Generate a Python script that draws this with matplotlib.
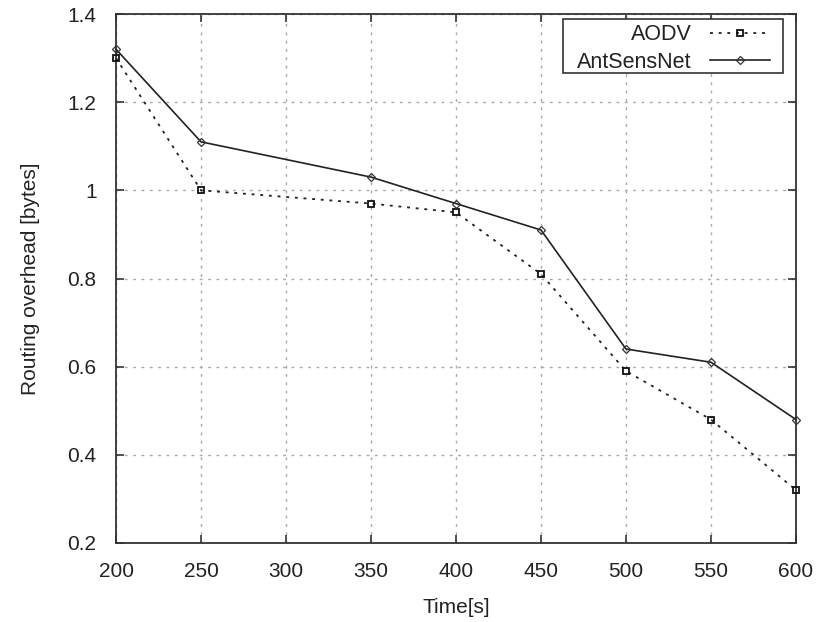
import matplotlib
matplotlib.use("Agg")
import matplotlib.pyplot as plt
from matplotlib.patches import Rectangle

plt.rcParams['font.family'] = ['Liberation Sans', 'DejaVu Sans']

time_s = [200, 250, 350, 400, 450, 500, 550, 600]
aodv = [1.30, 1.00, 0.97, 0.95, 0.81, 0.59, 0.48, 0.32]
antsensnet = [1.32, 1.11, 1.03, 0.97, 0.91, 0.64, 0.61, 0.48]
xticks = [200, 250, 300, 350, 400, 450, 500, 550, 600]
yticks = [0.2, 0.4, 0.6, 0.8, 1.0, 1.2, 1.4]
yticklabels = ['0.2', '0.4', '0.6', '0.8', '1', '1.2', '1.4']

W, H = 816, 622
fig = plt.figure(figsize=(W/100, H/100), dpi=100)
ax = fig.add_axes([116/W, 1-543/H, (796-116)/W, (543-14)/H])

ax.plot(time_s, aodv, color='#222222', linestyle=(0, (1.6, 3.2)), linewidth=1.3,
        marker='s', markersize=4.5, markerfacecolor='none', markeredgewidth=1.3,
        markeredgecolor='#111111',
        label='AODV', clip_on=False, zorder=3)
ax.plot(time_s, antsensnet, color='#222222', linestyle='-', linewidth=1.2,
        marker='D', markersize=4, markerfacecolor='none', markeredgewidth=0.9,
        markeredgecolor='#333333',
        label='AntSensNet', clip_on=False, zorder=3)

ax.set_xlim(200, 600)
ax.set_ylim(0.2, 1.4)
ax.set_xticks(xticks)
ax.set_yticks(yticks)
ax.set_yticklabels(yticklabels)
ax.tick_params(direction='in', top=True, right=True, length=6, width=1.2,
               labelsize=15, pad=14, color='#333333', labelcolor='#222222')
for s in ax.spines.values():
    s.set_linewidth(1.3)
    s.set_color('#333333')

ax.grid(True, color='#a8a8a8', linestyle=(0, (2, 4)), linewidth=1.0)
ax.set_axisbelow(True)

ax.set_xlabel('Time[s]', fontsize=15, labelpad=12, color='#222222')
ax.set_ylabel('Routing overhead [bytes]', fontsize=15, labelpad=20, color='#222222')

# legend frame (gnuplot style box)
frame = Rectangle((563/W, 1-73/H), (783-563)/W, (73-19)/H, transform=fig.transFigure,
                  facecolor='white', edgecolor='#333333', linewidth=1.2,
                  zorder=4, clip_on=False)
ax.add_patch(frame)

leg = ax.legend(loc='upper right', bbox_to_anchor=(770/W, 1-24.5/H),
                bbox_transform=fig.transFigure,
                markerfirst=False, frameon=False, fontsize=15.5,
                handlelength=2.8, handletextpad=0.85, borderaxespad=0.0,
                labelspacing=0.29, borderpad=0.0)
leg.set_zorder(5)
for t in leg.get_texts():
    t.set_color('#222222')

fig.savefig('out.png', dpi=100)
